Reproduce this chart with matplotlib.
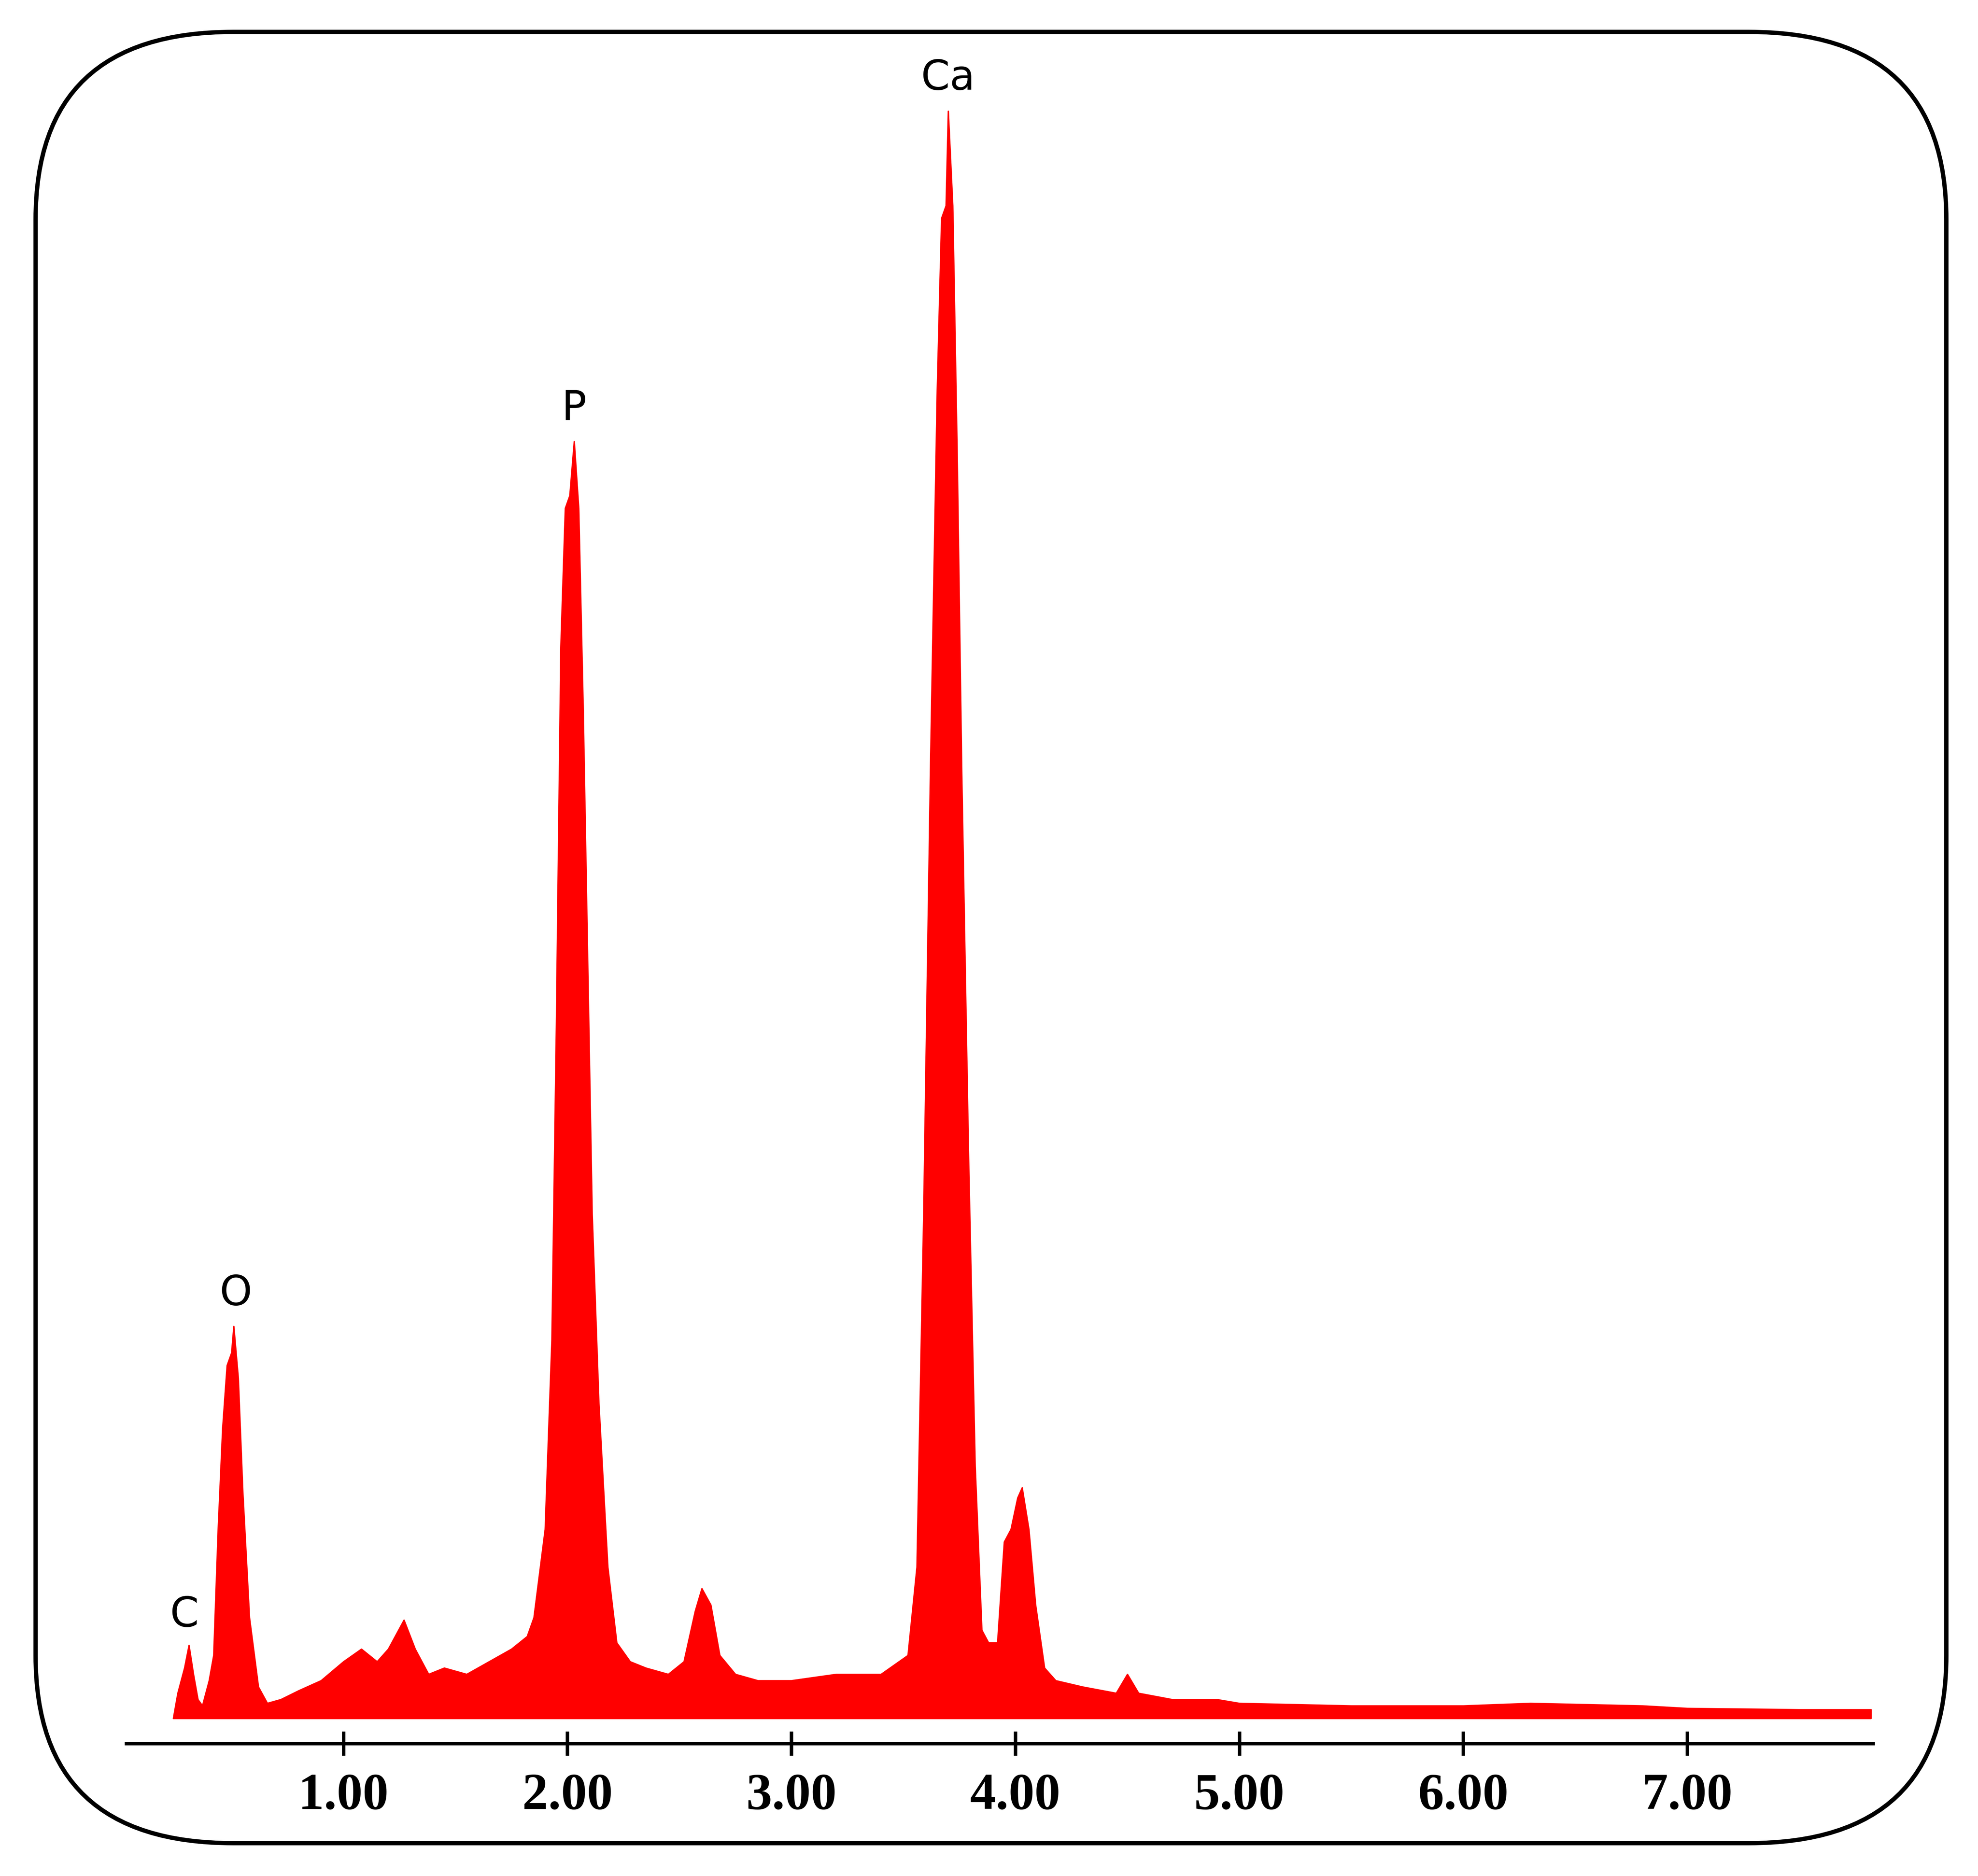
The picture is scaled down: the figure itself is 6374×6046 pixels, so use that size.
#!/usr/bin/env python3

import numpy as np
import matplotlib
matplotlib.use("Agg")
import matplotlib.pyplot as plt
from matplotlib.patches import FancyBboxPatch

# =========================
# DATA (energy keV, counts above background line)
# =========================

energy = np.array([
    0.24, 0.26, 0.29, 0.31, 0.33, 0.35, 0.37, 0.40, 0.42, 0.44, 0.46, 0.48, 0.50,
    0.51, 0.53, 0.55, 0.58, 0.62, 0.66, 0.72, 0.80, 0.90, 1.00, 1.08, 1.15, 1.20,
    1.27, 1.32, 1.38, 1.45, 1.55, 1.65, 1.75, 1.82, 1.85, 1.90, 1.93, 1.95, 1.97,
    1.99, 2.01, 2.03, 2.05, 2.07, 2.09, 2.11, 2.14, 2.18, 2.22, 2.28, 2.35, 2.45,
    2.52, 2.57, 2.60, 2.64, 2.68, 2.75, 2.85, 3.00, 3.20, 3.40, 3.52, 3.56, 3.59,
    3.62, 3.65, 3.67, 3.69, 3.70, 3.72, 3.74, 3.76, 3.79, 3.82, 3.85, 3.88, 3.92,
    3.95, 3.98, 4.01, 4.03, 4.06, 4.09, 4.13, 4.18, 4.30, 4.45, 4.50, 4.55, 4.70,
    4.90, 5.00, 5.50, 6.00, 6.30, 6.80, 7.00, 7.50, 7.82
])
counts = np.array([
    0, 20, 40, 58, 35, 15, 10, 30, 50, 150, 230, 280, 290,
    311, 270, 180, 80, 25, 12, 15, 22, 30, 45, 55, 45, 55,
    78, 55, 35, 40, 35, 45, 55, 65, 80, 150, 300, 550, 850,
    960, 970, 1013, 960, 800, 600, 400, 250, 120, 60, 45, 40, 35,
    45, 85, 103, 90, 50, 35, 30, 30, 35, 35, 50, 120, 400,
    750, 1050, 1190, 1200, 1275, 1200, 1000, 750, 450, 200, 70, 60, 60,
    140, 150, 175, 183, 150, 90, 40, 30, 25, 20, 35, 20, 15,
    15, 12, 10, 10, 12, 10, 8, 7, 7
])

peak_names = ["C", "O", "P", "Ca"]
peak_x = [0.29, 0.52, 2.03, 3.70]
peak_y = [86, 341, 1043, 1305]

ticks = [1, 2, 3, 4, 5, 6, 7]

# =========================
# PLOTTING
# =========================

gap = 20  # white gap between axis line and spectrum base

fig = plt.figure(figsize=(15.935, 15.115), dpi=400)
ax = fig.add_axes([0.0638, 0.0706, 0.8832, 0.889])

ax.fill_between(energy, gap, counts + gap, color="#ff0000", linewidth=0.8, edgecolor="#ff0000")

for name, x, y in zip(peak_names, peak_x, peak_y):
    ax.text(x, y, name, ha="center", va="bottom", fontsize=24, family="DejaVu Sans")

ax.set_xlim(0.03, 7.83)
ax.set_ylim(0, 1323)
for side in ["top", "left", "right"]:
    ax.spines[side].set_visible(False)
ax.spines["bottom"].set_linewidth(2)
ax.set_yticks([])
ax.set_xticks(ticks)
ax.set_xticklabels([f"{t:.2f}" for t in ticks], fontsize=30, fontweight="bold",
                   family="Liberation Serif")
ax.tick_params(axis="x", direction="inout", length=14, width=2, pad=10)

# rounded frame around everything
frame = FancyBboxPatch((0.018, 0.0175), 0.966, 0.9655,
                       boxstyle="round,pad=0,rounding_size=0.1",
                       transform=fig.transFigure, fill=False,
                       edgecolor="black", linewidth=2.5)
fig.patches.append(frame)

fig.savefig("out.png", dpi=400, facecolor="white")
